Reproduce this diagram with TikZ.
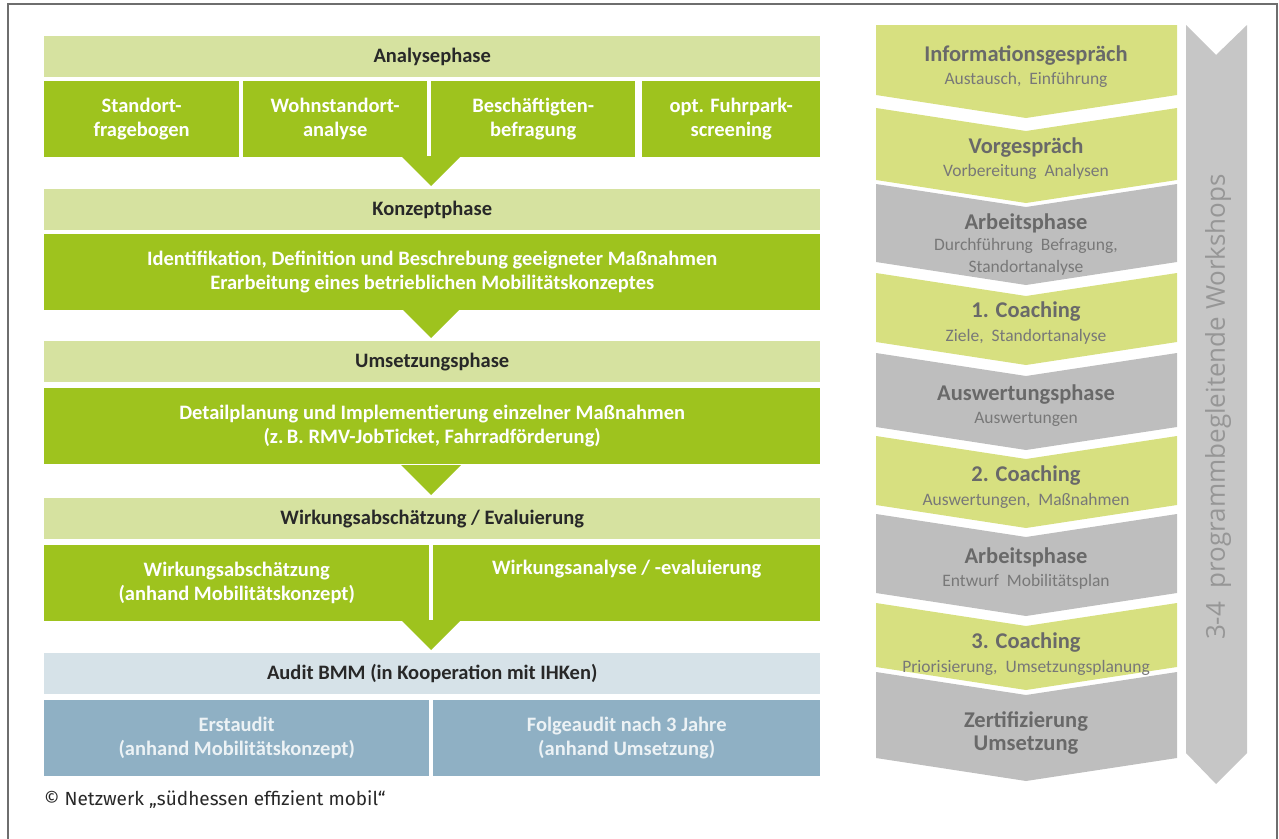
\documentclass[tikz,border=0pt]{standalone}
\usepackage{fontspec}
\setmainfont{Carlito}
\newfontfamily\creditfont{Fira Sans}
\newfontfamily\wsfont{Open Sans}
\usetikzlibrary{calc, positioning}

\definecolor{headgreen}{RGB}{214,226,160}
\definecolor{bodygreen}{RGB}{158,195,30}
\definecolor{headtext}{RGB}{40,40,40}
\definecolor{audithead}{RGB}{214,226,232}
\definecolor{auditbody}{RGB}{143,176,196}
\definecolor{audittext}{RGB}{236,242,245}
\definecolor{chevgreen}{RGB}{215,224,128}
\definecolor{chevgray}{RGB}{190,190,190}
\definecolor{chevtext}{RGB}{105,105,105}
\definecolor{chevsubtext}{RGB}{120,120,120}
\definecolor{wsgray}{RGB}{198,198,198}
\definecolor{wstext}{RGB}{150,150,150}
\definecolor{framegray}{RGB}{110,110,110}

\tikzset{
  phasehead/.style={rectangle, fill=headgreen, text=headtext, anchor=north west,
              minimum width=776, minimum height=41, inner sep=0,
              font=\fontsize{20.5}{24}\selectfont\bfseries},
  phasebody/.style={rectangle, fill=bodygreen, text=white, anchor=north west,
              minimum height=76, inner sep=0, align=center,
              font=\fontsize{20.5}{24}\selectfont\bfseries},
  auditbox/.style={phasebody, fill=auditbody, text=audittext},
  chevtitle/.style={text=chevtext, inner sep=0, align=center,
              font=\fontsize{22.5}{23.5}\selectfont\bfseries},
  chevsub/.style={text=chevsubtext, inner sep=0, align=center,
              font=\fontsize{17.5}{22.5}\selectfont},
}

\begin{document}
\begin{tikzpicture}[x=1pt, y=-1pt]
  \useasboundingbox (0,0) rectangle (1279,838);
  \draw[framegray, line width=1.2pt] (8,842) -- (8,4) -- (1277,4) -- (1277,842);

  % left column: phases
  \node[phasehead] (anahead) at (44,36) {Analysephase};
  \node[phasebody, minimum width=195] (anaA) at (44,81) {Standort-\\fragebogen};
  \node[phasebody, minimum width=184] (anaB) at (243,81) {Wohnstandort-\\analyse};
  \node[phasebody, minimum width=204] (anaC) at (431,81) {Beschäftigten-\\befragung};
  \node[phasebody, minimum width=178] (anaD) at (642,81) {opt. Fuhrpark-\\screening};

  \node[phasehead] (konzhead) at (44,189) {Konzeptphase};
  \node[phasebody, minimum width=776] (konzbody) at (44,234)
    {Identifikation, Definition und Beschrebung geeigneter Maßnahmen\\Erarbeitung eines betrieblichen Mobilitätskonzeptes};

  \node[phasehead] (umshead) at (44,341) {Umsetzungsphase};
  \node[phasebody, minimum width=776] (umsbody) at (44,388)
    {Detailplanung und Implementierung einzelner Maßnahmen\\(z.\,B. RMV-JobTicket, Fahrradförderung)};

  \node[phasehead] (wirkhead) at (44,498) {Wirkungsabschätzung / Evaluierung};
  \node[phasebody, minimum width=385] (wirkA) at (44,545)
    {Wirkungsabschätzung\\(anhand Mobilitätskonzept)};
  \node[phasebody, minimum width=387] (wirkB) at (433,545)
    {Wirkungsanalyse / -evaluierung\\\strut};

  \node[phasehead, fill=audithead] (audithead) at (44,653) {Audit BMM (in Kooperation mit IHKen)};
  \node[auditbox, minimum width=385] (auditA) at (44,700)
    {Erstaudit\\(anhand Mobilitätskonzept)};
  \node[auditbox, minimum width=387] (auditB) at (433,700)
    {Folgeaudit nach 3 Jahre\\(anhand Umsetzung)};

  % arrows between the phases
  \foreach \n in {konzhead, umshead, wirkhead, audithead}
    \fill[bodygreen] ($(\n.north)+(-31,-33)$) -- ($(\n.north)+(29,-33)$)
      -- ($(\n.north)+(-1,-3)$) -- cycle;

  \node[anchor=west, inner sep=0, text=headtext,
        font=\creditfont\fontsize{19}{22}\selectfont] (credit) at (44,800)
    {© Netzwerk „südhessen effizient mobil“};

  % right column: chevrons
  \foreach \t/\b/\d/\c in {25/95/0/chevgreen, 108/180/23/chevgreen, 184/262/23/chevgray,
      273/342/23/chevgreen, 353/427/23/chevgray, 436/505/23/chevgreen,
      514/593/23/chevgray, 603/667/23/chevgreen, 672/758/23/chevgray}
    \fill[\c] (876,\t) -- (1026,\t+\d) -- (1177,\t) -- (1177,\b)
      -- (1026,\b+23) -- (876,\b) -- cycle;

  \node[chevtitle] (infoT) at (1026,55) {Informationsgespräch};
  \node[chevsub] (infoS) at (1026,80) {Austausch, \ Einführung};
  \node[chevtitle] (vorT) at (1026,148) {Vorgespräch};
  \node[chevsub] (vorS) at (1026,172) {Vorbereitung \ Analysen};
  \node[chevtitle] (arbT) at (1026,223) {Arbeitsphase};
  \node[chevsub, anchor=north] (arbS) at (1026,238) {Durchführung \ Befragung,\\Standortanalyse};
  \node[chevtitle] (coaT) at (1026,312) {1. Coaching};
  \node[chevsub] (coaS) at (1026,337) {Ziele, \ Standortanalyse};
  \node[chevtitle] (ausT) at (1026,395) {Auswertungsphase};
  \node[chevsub] (ausS) at (1026,419) {Auswertungen};
  \node[chevtitle] (cobT) at (1026,476) {2. Coaching};
  \node[chevsub] (cobS) at (1026,501) {Auswertungen, \ Maßnahmen};
  \node[chevtitle] (arcT) at (1026,557) {Arbeitsphase};
  \node[chevsub] (arcS) at (1026,582) {Entwurf \ Mobilitätsplan};
  \node[chevtitle] (cocT) at (1026,643) {3. Coaching};
  \node[chevsub] (cocS) at (1026,668) {Priorisierung, \ Umsetzungsplanung};
  \node[chevtitle] (zerT) at (1026,733) {Zertifizierung\\Umsetzung};

  % workshops arrow
  \fill[wsgray] (1186,25) -- (1216,55) -- (1247,25) -- (1247,753)
    -- (1216,784) -- (1186,753) -- cycle;
  \node[rotate=90, text=wstext, inner sep=0,
        font=\wsfont\fontsize{26}{28}\selectfont] (wslabel) at (1218,407)
    {3-4 \ programmbegleitende Workshops};
\end{tikzpicture}
\end{document}
